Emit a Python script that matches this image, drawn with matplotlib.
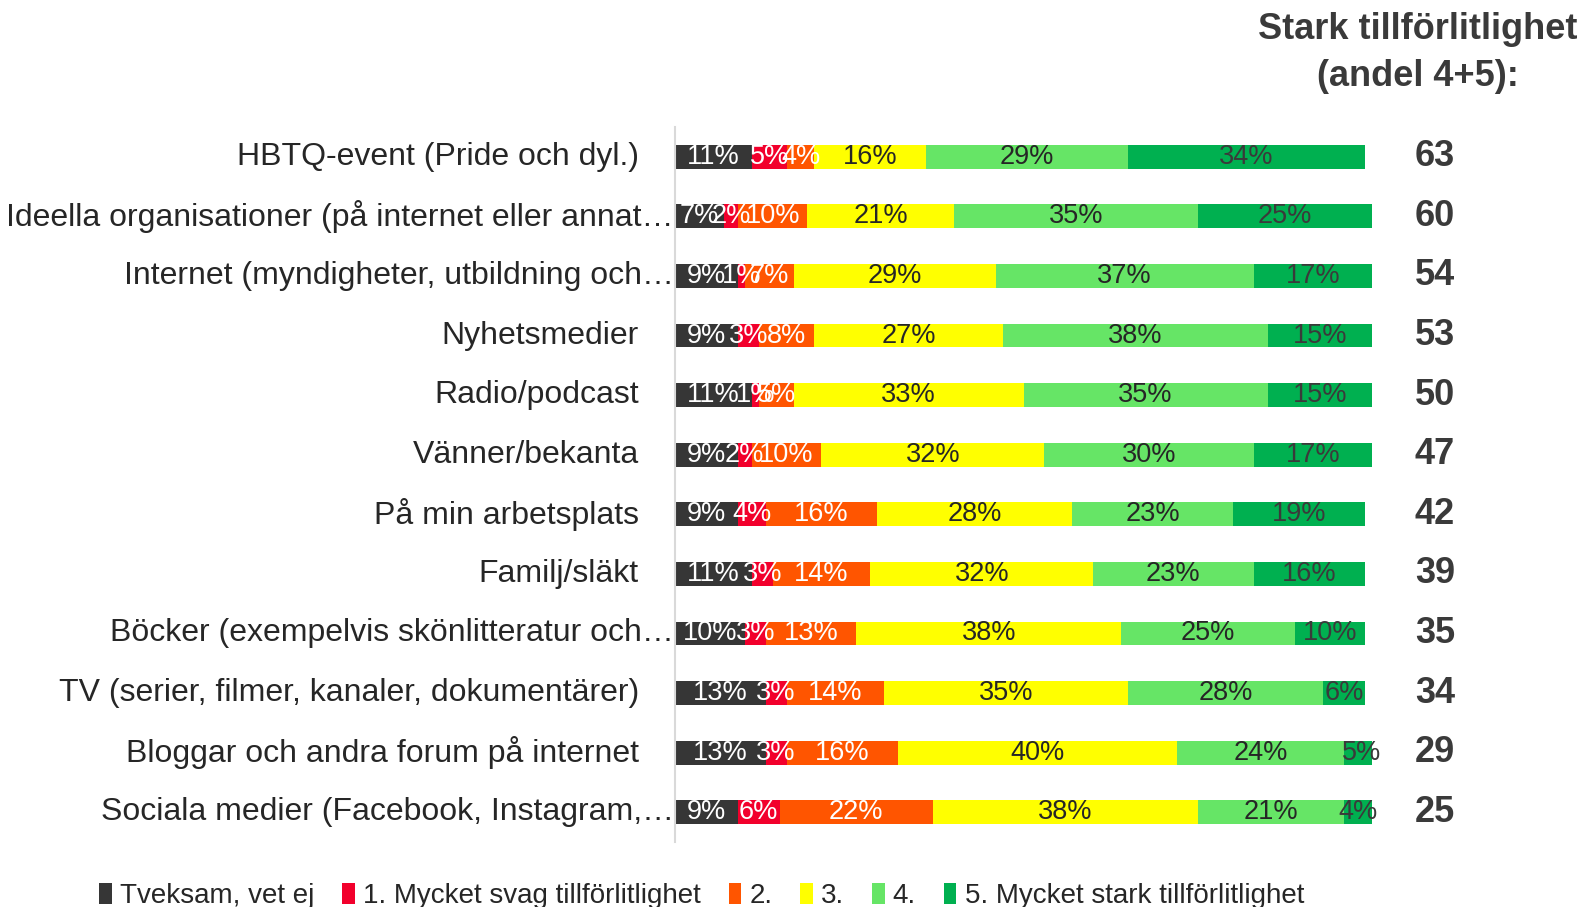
import matplotlib

matplotlib.use("Agg")
import matplotlib.pyplot as plt
import numpy as np
from matplotlib.patches import Patch

plt.rcParams["font.family"] = ["Liberation Sans", "DejaVu Sans"]

# data
categories = [
    "HBTQ-event (Pride och dyl.)",
    "Ideella organisationer (på internet eller annat…",
    "Internet (myndigheter, utbildning och…",
    "Nyhetsmedier",
    "Radio/podcast",
    "Vänner/bekanta",
    "På min arbetsplats",
    "Familj/släkt",
    "Böcker (exempelvis skönlitteratur och…",
    "TV (serier, filmer, kanaler, dokumentärer)",
    "Bloggar och andra forum på internet",
    "Sociala medier (Facebook, Instagram,…",
]
series_names = [
    "Tveksam, vet ej",
    "1. Mycket svag tillförlitlighet",
    "2.",
    "3.",
    "4.",
    "5. Mycket stark tillförlitlighet",
]
tveksam = [11, 7, 9, 9, 11, 9, 9, 11, 10, 13, 13, 9]
svag1 = [5, 2, 1, 3, 1, 2, 4, 3, 3, 3, 3, 6]
s2 = [4, 10, 7, 8, 5, 10, 16, 14, 13, 14, 16, 22]
s3 = [16, 21, 29, 27, 33, 32, 28, 32, 38, 35, 40, 38]
s4 = [29, 35, 37, 38, 35, 30, 23, 23, 25, 28, 24, 21]
stark5 = [34, 25, 17, 15, 15, 17, 19, 16, 10, 6, 5, 4]
andel_45 = [63, 60, 54, 53, 50, 47, 42, 39, 35, 34, 29, 25]

colors = ["#363636", "#f2002c", "#ff5500", "#ffff00", "#66e566", "#00b050"]
text_colors = ["white", "white", "white", "#262626", "#262626", "#3a3a3a"]

fig = plt.figure(figsize=(15.91, 9.07), dpi=100)
ax = fig.add_axes([0.4243, 0.0717, 0.4381, 0.7883])

values = np.array([tveksam, svag1, s2, s3, s4, stark5], dtype=float)
y = np.arange(len(categories))
left = np.zeros(len(categories))
for k in range(len(series_names)):
    ax.barh(y, values[k], left=left, height=0.4, color=colors[k], linewidth=0)
    for i in range(len(categories)):
        ax.text(left[i] + values[k][i] / 2, y[i], f"{int(values[k][i])}%",
                ha="center", va="center", fontsize=19.5, color=text_colors[k])
    left += values[k]

ax.set_xlim(0, 100)
ax.set_ylim(len(categories) - 0.5, -0.5)
ax.set_xticks([])
ax.set_yticks([])
for s in ["top", "right", "bottom"]:
    ax.spines[s].set_visible(False)
ax.spines["left"].set_color("#d9d9d9")
ax.spines["left"].set_linewidth(1.5)

# kategori-etiketter
for i, cat in enumerate(categories):
    off = -1 if cat.endswith("…") else -26
    ax.annotate(cat, xy=(0, y[i]), xytext=(off, 0), textcoords="offset points",
                ha="right", va="center", fontsize=23, color="#262626")

# andel 4+5
for i, v in enumerate(andel_45):
    ax.text(109, y[i], str(v), ha="center", va="center", fontsize=26,
            fontweight="bold", color="#3a3a3a", clip_on=False)

fig.text(0.891, 0.942, "Stark tillförlitlighet\n(andel 4+5):", ha="center",
         va="center", fontsize=26, fontweight="bold", color="#3a3a3a",
         linespacing=1.45)

handles = [Patch(facecolor=c) for c in colors]
fig.legend(handles, series_names, loc="center", bbox_to_anchor=(0.441, 0.012),
           ncol=6, frameon=False, fontsize=20, handlelength=0.45,
           handleheight=0.8, handletextpad=0.3, columnspacing=1.0,
           labelcolor="#262626")

fig.savefig("out.png", dpi=100)
